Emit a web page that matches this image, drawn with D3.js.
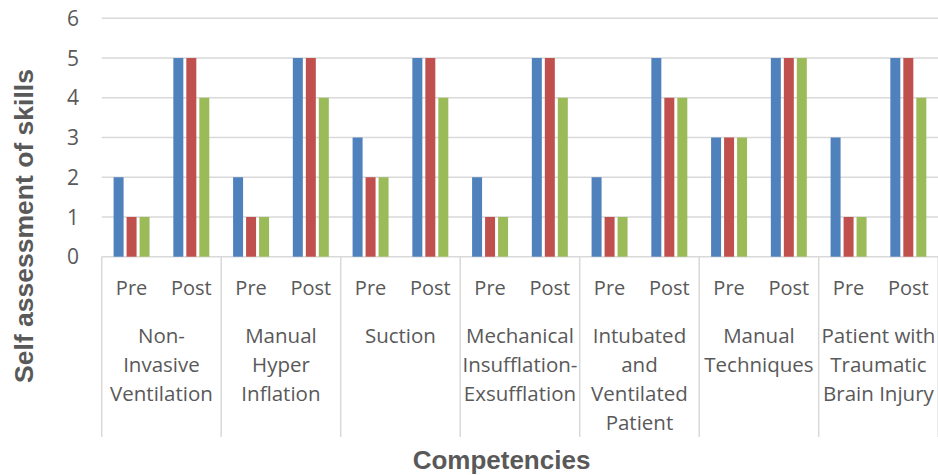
<!DOCTYPE html>
<html>
<head>
<meta charset="utf-8">
<script src="https://cdn.jsdelivr.net/npm/d3@7"></script>
<style>
  body { margin: 0; background: #fff; }
  svg { display: block; }
</style>
</head>
<body>
<svg id="chart" width="938" height="475"></svg>
<script>
// competencies (outer axis level), line breaks as shown in the chart
const competencies = [
  ['Non-', 'Invasive', 'Ventilation'],
  ['Manual', 'Hyper', 'Inflation'],
  ['Suction'],
  ['Mechanical', 'Insufflation-', 'Exsufflation'],
  ['Intubated', 'and', 'Ventilated', 'Patient'],
  ['Manual', 'Techniques'],
  ['Patient with', 'Traumatic', 'Brain Injury']
];
const phases = ['Pre', 'Post'];
const seriesNames = ['Series1', 'Series2', 'Series3'];

// values per competency: [pre, post] for each series
const series1 = [[2, 5], [2, 5], [3, 5], [2, 5], [2, 5], [3, 5], [3, 5]];
const series2 = [[1, 5], [1, 5], [2, 5], [1, 5], [1, 4], [3, 5], [1, 5]];
const series3 = [[1, 4], [1, 4], [2, 4], [1, 4], [1, 4], [3, 5], [1, 4]];
const yTicks = [0, 1, 2, 3, 4, 5, 6];

const colors = ['#4f81bd', '#c0504d', '#9bbb59'];
const textColor = '#595959';
const gridColor = '#d9d9d9';

const svg = d3.select('#chart');
const plotLeft = 101.7, plotRight = 938.2, plotTop = 18.3, plotBottom = 256.7;

const x0 = d3.scaleBand().domain(d3.range(competencies.length)).range([plotLeft, plotRight]);
const x1 = d3.scaleBand().domain(phases).range([0, x0.bandwidth()]);
const x2 = d3.scaleBand().domain(seriesNames).range([0, x1.bandwidth()])
  .paddingInner(3 / 13).paddingOuter(0.9154);
const y = d3.scaleLinear().domain([0, 6]).range([plotBottom, plotTop]);

// gridlines
svg.append('g')
  .selectAll('line')
  .data(yTicks)
  .join('line')
  .attr('x1', plotLeft).attr('x2', plotRight)
  .attr('y1', d => y(d)).attr('y2', d => y(d))
  .attr('stroke', gridColor).attr('stroke-width', 1.5);

// y tick labels
svg.append('g')
  .selectAll('text')
  .data(yTicks)
  .join('text')
  .attr('x', 79)
  .attr('y', d => y(d))
  .attr('dy', '0.36em')
  .attr('text-anchor', 'end')
  .attr('font-family', 'Open Sans')
  .attr('font-size', 21)
  .attr('fill', textColor)
  .text(d => d);

// bars
const rows = [];
competencies.forEach((c, i) => {
  phases.forEach((p, j) => {
    [series1, series2, series3].forEach((s, k) => {
      rows.push({ c: i, p: p, s: seriesNames[k], k: k, v: s[i][j] });
    });
  });
});

svg.append('g')
  .selectAll('rect')
  .data(rows)
  .join('rect')
  .attr('x', d => x0(d.c) + x1(d.p) + x2(d.s))
  .attr('y', d => y(d.v))
  .attr('width', x2.bandwidth())
  .attr('height', d => y(0) - y(d.v))
  .attr('fill', d => colors[d.k]);

// category separators
svg.append('g')
  .selectAll('line')
  .data(d3.range(competencies.length + 1))
  .join('line')
  .attr('x1', d => plotLeft + d * x0.step()).attr('x2', d => plotLeft + d * x0.step())
  .attr('y1', plotBottom).attr('y2', 437)
  .attr('stroke', gridColor).attr('stroke-width', 1.5);

// inner labels (Pre / Post)
const labelFont = 'Open Sans';
const inner = svg.append('g');
competencies.forEach((c, i) => {
  phases.forEach(p => {
    inner.append('text')
      .attr('x', x0(i) + x1(p) + x1.bandwidth() / 2)
      .attr('y', 295)
      .attr('text-anchor', 'middle')
      .attr('font-family', labelFont)
      .attr('font-size', 20)
      .attr('fill', textColor)
      .text(p);
  });
});

// outer labels (competencies)
svg.append('g')
  .selectAll('text')
  .data(competencies)
  .join('text')
  .attr('text-anchor', 'middle')
  .attr('font-family', labelFont)
  .attr('font-size', 20.5)
  .attr('fill', textColor)
  .each(function(lines, i) {
    d3.select(this).selectAll('tspan')
      .data(lines)
      .join('tspan')
      .attr('x', x0(i) + x0.bandwidth() / 2)
      .attr('y', (d, k) => 342.7 + k * 29)
      .text(d => d);
  });

// axis titles
svg.append('text')
  .attr('transform', 'translate(33,226) rotate(-90)')
  .attr('text-anchor', 'middle')
  .attr('font-family', 'Liberation Sans')
  .attr('font-weight', 'bold')
  .attr('font-size', 26.5)
  .attr('fill', textColor)
  .text('Self assessment of skills');

svg.append('text')
  .attr('x', 501.5)
  .attr('y', 469)
  .attr('text-anchor', 'middle')
  .attr('font-family', 'Liberation Sans')
  .attr('font-weight', 'bold')
  .attr('font-size', 26)
  .attr('fill', textColor)
  .text('Competencies');
</script>
</body>
</html>
